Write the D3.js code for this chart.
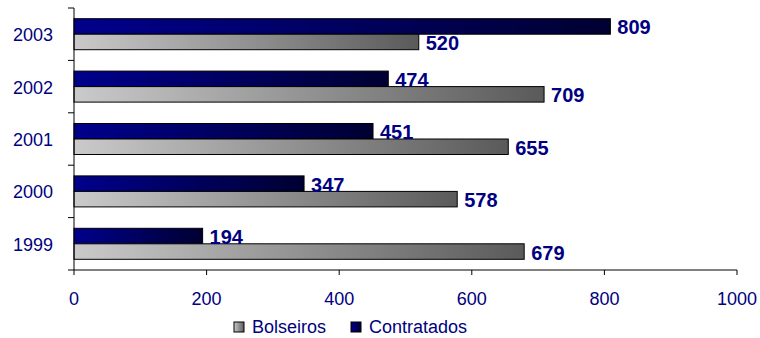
<!DOCTYPE html>
<html><head><meta charset="utf-8">
<script src="https://cdn.jsdelivr.net/npm/d3@7"></script>
<style>
html,body{margin:0;padding:0;background:#fff;}
svg{display:block;font-family:Arial,"Liberation Sans",sans-serif;}
</style></head>
<body><svg id="chart" width="760" height="338"></svg>
<script>
const categories = ["2003","2002","2001","2000","1999"];
const seriesNames = ["Contratados","Bolseiros"];
const contratados = [809, 474, 451, 347, 194];
const bolseiros = [520, 709, 655, 578, 679];
const xTicks = [0, 200, 400, 600, 800, 1000];
const legendOrder = ["Bolseiros","Contratados"];

const svg = d3.select("#chart");
const navy = "#000080";
const mLeft = 74, mRight = 737, mTop = 8, mBottom = 270;

const x = d3.scaleLinear().domain([0, 1000]).range([mLeft, mRight]);
const y = d3.scaleBand().domain(categories).range([mTop, mBottom]).padding(0);
const sub = d3.scaleBand().domain(seriesNames).range([0, y.bandwidth()]).paddingInner(0).paddingOuter(0.69);

const defs = svg.append("defs");
function grad(id, c1, c2){
  const g = defs.append("linearGradient").attr("id", id).attr("x1","0").attr("x2","1").attr("y1","0").attr("y2","0");
  g.append("stop").attr("offset","0").attr("stop-color", c1);
  g.append("stop").attr("offset","1").attr("stop-color", c2);
}
grad("gNavy", "#00008c", "#000032");
grad("gGray", "#cacaca", "#5a5a5a");
const fills = {Contratados: "url(#gNavy)", Bolseiros: "url(#gGray)"};

const rows = categories.map((c, i) => ({cat: c, Contratados: contratados[i], Bolseiros: bolseiros[i]}));

const g = svg.append("g");
rows.forEach(r => {
  seriesNames.forEach(s => {
    const y0 = y(r.cat) + sub(s);
    g.append("rect")
      .attr("x", x(0)).attr("y", y0)
      .attr("width", x(r[s]) - x(0)).attr("height", sub.bandwidth())
      .attr("fill", fills[s]).attr("stroke", "#000").attr("stroke-width", 1);
  });
});
rows.forEach(r => {
  seriesNames.forEach(s => {
    const y0 = y(r.cat) + sub(s);
    g.append("text")
      .attr("x", x(r[s]) + 7).attr("y", y0 + sub.bandwidth()/2 + 1)
      .attr("dominant-baseline", "central")
      .attr("font-size", 20).attr("font-weight", "bold").attr("fill", navy)
      .text(r[s]);
  });
});

// Y axis
const ya = svg.append("g");
ya.append("line").attr("x1", mLeft).attr("x2", mLeft).attr("y1", mTop).attr("y2", mBottom).attr("stroke","#000");
const bounds = categories.map(c => y(c)).concat([mBottom]);
bounds.forEach(b => ya.append("line").attr("x1", mLeft-6).attr("x2", mLeft).attr("y1", b).attr("y2", b).attr("stroke","#000"));
categories.forEach(c => ya.append("text").attr("x", 53).attr("y", y(c) + y.bandwidth()/2 + 1)
  .attr("text-anchor","end").attr("dominant-baseline","central").attr("font-size",18).attr("fill",navy).text(c));

// X axis
const xa = svg.append("g");
xa.append("line").attr("x1", mLeft).attr("x2", mRight).attr("y1", mBottom).attr("y2", mBottom).attr("stroke","#000");
xTicks.forEach(t => {
  xa.append("line").attr("x1", x(t)).attr("x2", x(t)).attr("y1", mBottom).attr("y2", mBottom+5).attr("stroke","#000");
  xa.append("text").attr("x", x(t)).attr("y", 305).attr("text-anchor","middle").attr("font-size",18).attr("fill",navy).text(t);
});

// Legend
const legendX = {Bolseiros: 234, Contratados: 351};
const legendFill = {Bolseiros: "url(#gGray)", Contratados: "url(#gNavy)"};
legendOrder.forEach(s => {
  svg.append("rect").attr("x", legendX[s]).attr("y", 322).attr("width", 10).attr("height", 10)
    .attr("fill", legendFill[s]).attr("stroke","#000");
  svg.append("text").attr("x", legendX[s] + 18).attr("y", 333).attr("font-size", 18).attr("fill", navy).text(s);
});
</script>
</body></html>
